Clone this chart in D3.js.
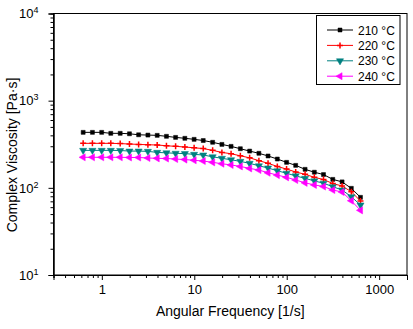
<!DOCTYPE html>
<html><head><meta charset="utf-8">
<script src="https://cdn.jsdelivr.net/npm/d3@7"></script>
<style>html,body{margin:0;padding:0;background:#fff;} svg{display:block;font-family:"Liberation Sans",Arial,sans-serif;}</style>
</head><body>
<svg id="c" width="413" height="329"></svg>
<script>
const freq = [0.628,0.791,0.996,1.25,1.58,1.99,2.50,3.15,3.97,5.00,6.28,7.91,9.96,12.5,15.8,19.9,25.0,31.5,39.7,50.0,62.8,79.1,99.6,125,158,199,250,315,397,500,628];
const eta210 = [433,433,433,422,422,417,406,403,400,390,379,370,360,349,333,315,299,281,264,249,232,214,196,181,163,151,142,125,117,98.7,77.8];
const eta220 = [324,324,324,324,322,318,315,312,310,304,299,294,288,282,269,255,246,233,221,205,191,176,164,152,143,132,124.5,112,105,90.2,70.6];
const eta230 = [269,269,269,269,268,264,264,262,255,252,249,247,242,238,227,218,210,201,191,179,169,157,147,137,128.5,120,113,103,94.4,79,63.5];
const eta240 = [224,224,224,224,224,223,223,220,218,217,214,211,207,203,196,189,183,176,167,160,149,140,132,123,114,108,103.5,94.4,89.5,71.1,55.2];
const seriesNames = ["210 °C","220 °C","230 °C","240 °C"];
const seriesColors = ["#000000","#ff0000","#008080","#ff00ff"];
const xMajor = [1,10,100,1000];
const yMajor = [10,100,1000,10000];
const xTitle = "Angular Frequency [1/s]";
const yTitle = "Complex Viscosity [Pa·s]";

const svg = d3.select("#c");
const L = 53.5, R = 407, T = 13.5, B = 275;
const x = d3.scaleLog().domain([0.3,2000]).range([L,R]);
const y = d3.scaleLog().domain([10,10000]).range([B,T]);

const xMinor = [];
for (let e=-1;e<=3;e++) for (let m=2;m<=9;m++){ const v=m*Math.pow(10,e); if(v>=0.3-1e-9 && v<=2000+1e-9) xMinor.push(v); }
const yMinor = [];
for (let e=1;e<=3;e++) for (let m=2;m<=9;m++) yMinor.push(m*Math.pow(10,e));

// frame
svg.append("rect").attr("x",L).attr("y",T).attr("width",R-L).attr("height",B-T)
  .attr("fill","none").attr("stroke","#000").attr("stroke-width",1);

// axes
const gx = svg.append("g").attr("transform",`translate(0,${B})`);
gx.call(d3.axisBottom(x).tickValues(xMinor).tickSize(3).tickFormat(""));
const gxM = svg.append("g").attr("transform",`translate(0,${B})`);
gxM.call(d3.axisBottom(x).tickValues(xMajor).tickSize(5).tickPadding(5).tickFormat(d3.format("d")));
const gy = svg.append("g").attr("transform",`translate(${L},0)`);
gy.call(d3.axisLeft(y).tickValues(yMinor).tickSize(3).tickFormat(""));
const gyM = svg.append("g").attr("transform",`translate(${L},0)`);
gyM.call(d3.axisLeft(y).tickValues(yMajor).tickSize(5).tickPadding(4).tickFormat(""));
[gx,gxM,gy,gyM].forEach(g=>{ g.select(".domain").attr("stroke","#000"); g.selectAll(".tick line").attr("stroke","#000"); });
gxM.selectAll(".tick text").attr("font-size",13).attr("fill","#000").attr("font-family","Liberation Sans, Arial, sans-serif");
gyM.selectAll(".tick text").attr("font-family","Liberation Sans, Arial, sans-serif").attr("font-size",13).attr("fill","#000")
  .attr("dx","-6").each(function(d){
    const t=d3.select(this); t.text(null);
    t.append("tspan").text("10");
    t.append("tspan").attr("dy","-0.55em").attr("font-size","9").text(Math.round(Math.log10(d)));
  });

// titles
svg.append("text").attr("x",(L+R)/2).attr("y",316).attr("text-anchor","middle")
  .attr("font-size",14).attr("fill","#000").text(xTitle);
svg.append("text").attr("transform",`translate(17,155) rotate(-90)`).attr("text-anchor","middle")
  .attr("font-size",14).attr("fill","#000").text(yTitle);

// symbols
const plusSym = {draw(ctx,size){const r=Math.sqrt(size)/2; ctx.moveTo(-r,0);ctx.lineTo(r,0);ctx.moveTo(0,-r);ctx.lineTo(0,r);}};
const symDefs = [
  {type:d3.symbolSquare,size:16,rot:0,fill:true},
  {type:plusSym,size:36,rot:0,fill:false},
  {type:d3.symbolTriangle,size:22,rot:180,fill:true},
  {type:d3.symbolTriangle,size:22,rot:-90,fill:true}
];
const allSeries = [eta210,eta220,eta230,eta240];
const line = d3.line().x((d,i)=>x(freq[i])).y(d=>y(d));
allSeries.forEach((vals,k)=>{
  const col = seriesColors[k], sd = symDefs[k];
  svg.append("path").datum(vals).attr("d",line).attr("fill","none").attr("stroke",col).attr("stroke-width",1);
  const sym = d3.symbol().type(sd.type).size(sd.size);
  svg.append("g").selectAll("path").data(vals).join("path")
    .attr("transform",(d,i)=>`translate(${x(freq[i])},${y(d)}) rotate(${sd.rot})`)
    .attr("d",sym).attr("fill",sd.fill?col:"none").attr("stroke",col).attr("stroke-width",sd.fill?0.5:1.5);
});

// legend
const lg = svg.append("g");
lg.append("rect").attr("x",316.5).attr("y",15.5).attr("width",83.5).attr("height",69)
  .attr("fill","#fff").attr("stroke","#000").attr("stroke-width",1);
seriesNames.forEach((nm,k)=>{
  const yy = 30 + k*15.4, col = seriesColors[k], sd = symDefs[k];
  lg.append("line").attr("x1",327).attr("x2",353).attr("y1",yy).attr("y2",yy).attr("stroke",col).attr("stroke-width",1);
  lg.append("path").attr("transform",`translate(340,${yy}) rotate(${sd.rot})`)
    .attr("d",d3.symbol().type(sd.type).size(sd.size)).attr("fill",sd.fill?col:"none").attr("stroke",col).attr("stroke-width",sd.fill?0.5:1.5);
  lg.append("text").attr("x",358).attr("y",yy+4.5).attr("font-size",12).attr("fill","#000").text(nm);
});
</script>
</body></html>
